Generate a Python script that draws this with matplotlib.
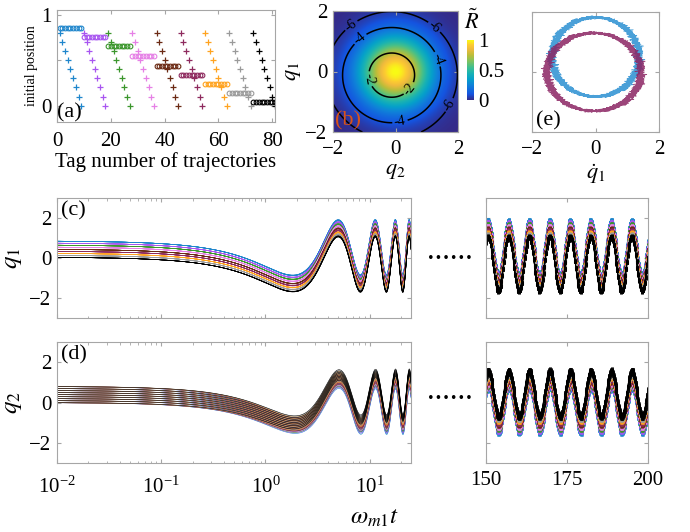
import numpy as np
import matplotlib
matplotlib.use('Agg')
import matplotlib.pyplot as plt
from matplotlib.colors import LinearSegmentedColormap

plt.rcParams['font.family'] = ['Liberation Serif', 'DejaVu Serif']
plt.rcParams['mathtext.fontset'] = 'stix'

# initial conditions: 9 x 9 grid of (q1, q2), tagged 1..81
q1_levels = [0.85, 0.75, 0.65, 0.55, 0.44, 0.34, 0.24, 0.14, 0.04]
q2_levels = [0.8, 0.7, 0.6, 0.5, 0.4, 0.3, 0.2, 0.1, 0.0]
group_colors = ['#1f86cc', '#a855f0', '#3b962c', '#e680e6', '#6b2a14',
                '#8e2a5e', '#ffa31f', '#9a9a9a', '#000000']

# long-time response of q1, q2: offset + amplitude*cos(omega*t + phase)
omega = 0.992
q1_wave = (-0.34, 1.38, 1.32)
q2_wave = (-0.37, 1.13, 1.237)
q2_into_q1 = 0.15
q1_into_q2 = 1.0
q2_memory = 0.3     # share of the q2 offset kept at long times
t_mix = 5.0

# phase-space rings of panel (e): centre x, centre y, radius x, radius y
ring_blue = (0.0, 0.5, 1.37, 1.32)
ring_red = (-0.05, 0.0, 1.48, 1.30)
jitter_freq = [83.3, 137.7, 211.1, 293.9, 389.4, 457.2]
jitter_amp = [0.05, 0.045, 0.04, 0.035, 0.03, 0.025]

# parula-like colour map
parula = LinearSegmentedColormap.from_list('parula', [
    (0.00, (0.208, 0.166, 0.529)), (0.10, (0.080, 0.330, 0.880)),
    (0.25, (0.060, 0.510, 0.850)), (0.35, (0.020, 0.630, 0.790)),
    (0.45, (0.100, 0.700, 0.700)), (0.55, (0.260, 0.750, 0.550)),
    (0.65, (0.500, 0.760, 0.370)), (0.75, (0.740, 0.740, 0.220)),
    (0.85, (0.940, 0.730, 0.240)), (0.92, (0.990, 0.800, 0.190)),
    (1.00, (0.976, 0.984, 0.081))])

EDGE = '#a6a6a6'


def style(ax, xpad=4):
    for s in ax.spines.values():
        s.set_color(EDGE)
        s.set_linewidth(0.8)
    ax.tick_params(which='both', direction='in', top=True, right=True,
                   color=EDGE, labelsize=15, length=3)
    ax.tick_params(which='minor', length=1.8)
    ax.tick_params(axis='x', pad=xpad)
    ax.tick_params(axis='y', pad=4)


def trajectories(t):
    q1s, q2s, cols = [], [], []
    mix = t / (t + t_mix)
    for i, a in enumerate(q1_levels):
        for b in q2_levels:
            c, A, p = q1_wave
            q1 = a + c + A * np.cos(omega * t + p) + q2_into_q1 * (b - 0.4) * mix
            c, A, p = q2_wave
            q2 = (0.4 + (b - 0.4) * (1 - (1 - q2_memory) * mix)
                  + c + A * np.cos(omega * t + p) - q1_into_q2 * (a - 0.45) * mix)
            q1s.append(q1)
            q2s.append(q2)
            cols.append(group_colors[i])
    return q1s, q2s, cols


fig = plt.figure(figsize=(6.9, 5.32), dpi=100)
W, H = 690.0, 532.0


def box(x0, y0, x1, y1):
    return [x0 / W, 1 - y1 / H, (x1 - x0) / W, (y1 - y0) / H]


# (a) initial positions vs tag number
ax = fig.add_axes(box(57, 10, 275, 122))
for i in range(9):
    tag = np.arange(1, 10) + 9 * i
    ax.plot(tag, [q1_levels[i]] * 9, 'o', ms=3.4, mfc='none', mew=0.8,
            color=group_colors[i])
    ax.plot(tag, q2_levels, '+', ms=4.5, mew=0.9, color=group_colors[i])
ax.set_xlim(0, 81)
ax.set_ylim(-0.18, 1.05)
ax.set_xticks([0, 20, 40, 60, 80])
ax.set_yticks([0, 0.5, 1])
ax.set_yticklabels(['0', '', '1'])
style(ax, xpad=7)
ax.set_ylabel('initial position', fontsize=10, labelpad=2)
ax.set_xlabel('Tag number of trajectories', fontsize=15, labelpad=1)
ax.text(0.0, 0.0, '(a)', transform=ax.transAxes, fontsize=16, va='bottom')

# (b) R-tilde map with contours
ax = fig.add_axes(box(333, 11, 458, 132))
g = np.linspace(-2, 2, 301)
Q2, Q1 = np.meshgrid(g, g)
R = np.exp(-(Q1 ** 2 + Q2 ** 2) / 1.3)
F = -1.45 - 1.03 * ((Q2 + 0.12) ** 2 + (Q1 + 0.12) ** 2)
im = ax.imshow(R, extent=[-2, 2, -2, 2], origin='lower', cmap=parula,
               vmin=0, vmax=1, aspect='auto')
cs = ax.contour(g, g, F, levels=[-6, -4, -2], colors='k', linewidths=1.1,
                linestyles='solid')
ax.clabel(cs, fmt='%d', fontsize=10, inline_spacing=2,
          manual=[(-0.95, -0.27), (0.42, -0.55), (-1.1, 1.04), (1.27, 0.38),
                  (0.16, -1.76), (-1.43, 1.54), (1.16, 1.37), (1.8, -1.15)])
ax.set_xticks([-2, 0, 2])
ax.set_yticks([-2, 0, 2])
style(ax, xpad=6)
ax.set_xlabel('$q_2$', fontsize=16, labelpad=2)
ax.set_ylabel('$q_1$', fontsize=16, labelpad=2)
ax.text(0.02, 0.01, '(b)', transform=ax.transAxes, fontsize=16,
        color='#d95319', va='bottom')

cax = fig.add_axes(box(467, 40, 474, 100))
cb = fig.colorbar(im, cax=cax, ticks=[0, 0.5, 1])
cb.ax.set_yticklabels(['0', '0.5', '1'])
cb.outline.set_visible(False)
cb.ax.tick_params(length=0, labelsize=15, pad=3)
fig.text(472 / W, 1 - 22 / H, r'$\tilde{R}$', fontsize=16, ha='center', va='center')

# (e) noisy phase-space rings
ax = fig.add_axes(box(532, 12, 659, 132))
th = np.linspace(0, 6 * np.pi, 6000)
for ring, col in [(ring_blue, '#2a8fd2'), (ring_red, '#8b2463')]:
    cx, cy, rx, ry = ring
    jx = sum(a * np.sin(f * th + k) for k, (f, a) in enumerate(zip(jitter_freq, jitter_amp)))
    jy = sum(0.3 * a * np.cos(f * th + 2 * k) for k, (f, a) in enumerate(zip(jitter_freq, jitter_amp)))
    ax.plot(cx + rx * np.cos(th) + jx, cy + ry * np.sin(th) + jy,
            color=col, lw=0.4, alpha=0.85)
ax.set_xlim(-2, 2)
ax.set_ylim(-2, 2)
ax.set_xticks([-2, 0, 2])
ax.set_yticks([-2, 0, 2])
style(ax, xpad=6)
ax.tick_params(labelleft=False)
ax.set_xlabel(r'$\dot{q}_1$', fontsize=16, labelpad=2)
ax.text(0.03, 0.01, '(e)', transform=ax.transAxes, fontsize=16, va='bottom')

# (c), (d) time traces: early times on log axis, late window on linear axis
t_early = np.logspace(-2, np.log10(25), 2500)
t_late = np.arange(150, 200.01, 0.25)
e1, e2, cols = trajectories(t_early)
l1, l2, _ = trajectories(t_late)

panels = [(e1, l1, '$q_1$', '(c)', 198, 318, 259),
          (e2, l2, '$q_2$', '(d)', 342, 463, 399)]
for k, (early, late, name, label, ytop, ybot, ydots) in enumerate(panels):
    ax = fig.add_axes(box(57, ytop, 411, ybot))
    for y, c in zip(early, cols):
        ax.plot(t_early, y, color=c, lw=0.4)
    ax.set_xscale('log')
    ax.set_xlim(1e-2, 25)
    ax.set_ylim(-3, 3)
    ax.set_yticks([-2, 0, 2])
    style(ax, xpad=10)
    ax.set_ylabel(name, fontsize=18, labelpad=4)
    ax.text(0.01, 0.97, label, transform=ax.transAxes, fontsize=16, va='top')
    if k == 0:
        ax.tick_params(labelbottom=False)

    ax = fig.add_axes(box(486, ytop, 648, ybot))
    for y, c in zip(late, cols):
        ax.plot(t_late, y, '-o', color=c, lw=0.5, ms=1.8, mew=0.4,
                mfc='none')
    ax.set_xlim(150, 200)
    ax.set_ylim(-3, 3)
    ax.set_xticks([150, 175, 200])
    ax.set_yticks([-2, 0, 2])
    style(ax, xpad=6)
    ax.tick_params(labelleft=False, labelbottom=(k == 1))

    fig.text(450 / W, 1 - ydots / H, '......', fontsize=22,
             ha='center', va='baseline')

fig.text(375 / W, 1 - 518 / H, r'$\omega_{m1}t$', fontsize=18, ha='center', va='center')

fig.savefig('out.png', dpi=100)
